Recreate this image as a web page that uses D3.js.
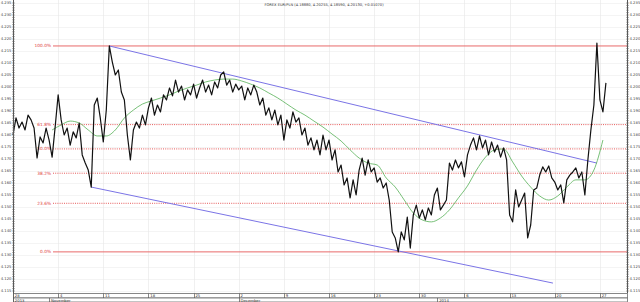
<!DOCTYPE html>
<html>
<head>
<meta charset="utf-8">
<script src="https://cdn.jsdelivr.net/npm/d3@7"></script>
<style>
  body { margin: 0; background: #fff; }
  svg { display: block; font-family: "DejaVu Sans", sans-serif; }
</style>
</head>
<body>
<svg id="chart" width="640" height="302"></svg>
<script>
const title = "FOREX EUR/PLN (4.18880, 4.20255, 4.18590, 4.20130, +0.01070)";

// closes, three per trading day, starting Mon 28 Oct 2013
const closes = [
  4.1800, 4.1871, 4.1829, 4.1854, 4.1821, 4.1883, 4.1863, 4.1829, 4.1704, 4.1792,
  4.1767, 4.1829, 4.1779, 4.1708, 4.1833, 4.1967, 4.1863, 4.1800, 4.1829, 4.1758,
  4.1813, 4.1788, 4.1850, 4.1717, 4.1683, 4.1654, 4.1583, 4.1925, 4.1954, 4.1871,
  4.1771, 4.1904, 4.2171, 4.2104, 4.2050, 4.2071, 4.1979, 4.1946, 4.1800, 4.1696,
  4.1821, 4.1854, 4.1829, 4.1883, 4.1842, 4.1913, 4.1954, 4.1883, 4.1925, 4.1896,
  4.1967, 4.1946, 4.1996, 4.1963, 4.2029, 4.1979, 4.2004, 4.1946, 4.1988, 4.1967,
  4.2012, 4.1954, 4.1996, 4.2029, 4.1979, 4.2008, 4.1967, 4.2021, 4.1996, 4.2050,
  4.2063, 4.2008, 4.2029, 4.1979, 4.2012, 4.1988, 4.2004, 4.1946, 4.1996, 4.1967,
  4.2008, 4.1979, 4.1925, 4.1954, 4.1883, 4.1913, 4.1863, 4.1904, 4.1842, 4.1883,
  4.1779, 4.1863, 4.1829, 4.1896, 4.1854, 4.1871, 4.1800, 4.1829, 4.1758, 4.1788,
  4.1738, 4.1779, 4.1717, 4.1800, 4.1738, 4.1779, 4.1696, 4.1738, 4.1646, 4.1675,
  4.1592, 4.1621, 4.1538, 4.1613, 4.1550, 4.1654, 4.1704, 4.1633, 4.1696, 4.1646,
  4.1663, 4.1604, 4.1621, 4.1579, 4.1600, 4.1529, 4.1396, 4.1371, 4.1313, 4.1396,
  4.1363, 4.1458, 4.1329, 4.1467, 4.1508, 4.1454, 4.1488, 4.1446, 4.1496, 4.1467,
  4.1550, 4.1579, 4.1488, 4.1508, 4.1529, 4.1683, 4.1654, 4.1696, 4.1663, 4.1688,
  4.1625, 4.1717, 4.1758, 4.1788, 4.1738, 4.1796, 4.1746, 4.1779, 4.1717, 4.1771,
  4.1729, 4.1758, 4.1708, 4.1746, 4.1696, 4.1467, 4.1438, 4.1571, 4.1500, 4.1529,
  4.1558, 4.1371, 4.1425, 4.1571, 4.1579, 4.1633, 4.1667, 4.1646, 4.1671, 4.1621,
  4.1604, 4.1571, 4.1592, 4.1517, 4.1613, 4.1633, 4.1646, 4.1663, 4.1621, 4.1646,
  4.1550, 4.1696, 4.1821, 4.1925, 4.2183, 4.1946, 4.1896, 4.2017
];
const barsPerDay = 3;

// moving average, one value every third bar from bar 13
const maStart = 13;
const maStep = 3;
const movingAvg = [
  4.1821, 4.1842, 4.1858, 4.1850, 4.1821, 4.1796, 4.1796, 4.1821, 4.1871, 4.1904,
  4.1929, 4.1942, 4.1954, 4.1967, 4.1983, 4.1996, 4.2008, 4.2021, 4.2029, 4.2033,
  4.2033, 4.2025, 4.2012, 4.1996, 4.1975, 4.1954, 4.1929, 4.1904, 4.1883, 4.1858,
  4.1833, 4.1804, 4.1775, 4.1738, 4.1704, 4.1683, 4.1675, 4.1621, 4.1583, 4.1529,
  4.1475, 4.1446, 4.1438, 4.1454, 4.1488, 4.1538, 4.1588, 4.1654, 4.1708, 4.1738,
  4.1742, 4.1688, 4.1629, 4.1583, 4.1546, 4.1529, 4.1546, 4.1583, 4.1613, 4.1613,
  4.1654, 4.1779
];

// trend channel, [day, price]
const upperChannel = [[10.667, 4.2171], [64.67, 4.1683]];
const lowerChannel = [[8.667, 4.1583], [59.8, 4.1183]];

const fibLevels = [100, 61.8, 50, 38.2, 23.6, 0];
const fibHigh = 4.2171;
const fibLow = 4.1313;

const priceTicks = [
  4.115, 4.120, 4.125, 4.130, 4.135, 4.140, 4.145, 4.150, 4.155, 4.160,
  4.165, 4.170, 4.175, 4.180, 4.185, 4.190, 4.195, 4.200, 4.205, 4.210,
  4.215, 4.220, 4.225, 4.230, 4.235
];
const weekDays = [0, 5, 10, 15, 20, 25, 30, 35, 40, 45, 50, 55, 60, 65];
const weekLabels = ["28", "4", "11", "18", "25", "2", "9", "16", "23", "30", "6", "13", "20", "27"];
const monthDays = [0, 4, 25, 47];
const monthLabels = ["2013", "November", "December", "2014"];

const svg = d3.select("#chart");
const plotLeft = 13, plotRight = 627, plotTop = 0, plotBottom = 293;

const x = d3.scaleLinear().domain([0, 68]).range([plotLeft, plotRight]);
const y = d3.scaleLinear().domain([4.115, 4.235]).range([291, 3]);

// grid
svg.append("g")
  .attr("stroke", "#ececec")
  .attr("stroke-width", 0.6)
  .selectAll("line")
  .data(priceTicks)
  .join("line")
  .attr("x1", plotLeft).attr("x2", plotRight)
  .attr("y1", d => Math.round(y(d)) + 0.5).attr("y2", d => Math.round(y(d)) + 0.5);

svg.append("g")
  .attr("stroke", "#e6e6e6")
  .attr("stroke-width", 0.6)
  .selectAll("line")
  .data(weekDays)
  .join("line")
  .attr("x1", d => Math.round(x(d)) + 0.5).attr("x2", d => Math.round(x(d)) + 0.5)
  .attr("y1", plotTop).attr("y2", plotBottom);

// fibonacci levels
const fibY = p => y(fibLow + (fibHigh - fibLow) * p / 100);
const fib = svg.append("g");
fib.selectAll("line")
  .data(fibLevels)
  .join("line")
  .attr("x1", 53).attr("x2", plotRight)
  .attr("y1", d => fibY(d)).attr("y2", d => fibY(d))
  .attr("stroke", d => (d === 100 || d === 0) ? "#e86a6a" : "#e65a5a")
  .attr("stroke-width", 1)
  .attr("stroke-dasharray", d => (d === 100 || d === 0) ? null : "1,1.2");
fib.selectAll("text")
  .data(fibLevels)
  .join("text")
  .attr("x", 51)
  .attr("y", d => fibY(d))
  .attr("dy", "0.35em")
  .attr("text-anchor", "end")
  .attr("font-size", 4.3)
  .attr("fill", "#e03c3c")
  .text(d => d.toFixed(1) + "%");

// channel
const seg = d3.line().x(d => x(d[0])).y(d => y(d[1]));
svg.append("g")
  .attr("fill", "none")
  .attr("stroke", "#7b74e6")
  .attr("stroke-width", 1)
  .selectAll("path")
  .data([upperChannel, lowerChannel])
  .join("path")
  .attr("d", seg);

// moving average
svg.append("path")
  .datum(movingAvg)
  .attr("fill", "none")
  .attr("stroke", "#55b055")
  .attr("stroke-width", 0.8)
  .attr("d", d3.line()
    .curve(d3.curveMonotoneX)
    .x((d, i) => x((maStart + i * maStep) / barsPerDay))
    .y(d => y(d)));

// price
svg.append("path")
  .datum(closes)
  .attr("fill", "none")
  .attr("stroke", "#111")
  .attr("stroke-width", 1.2)
  .attr("stroke-linejoin", "round")
  .attr("d", d3.line()
    .x((d, i) => x(i / barsPerDay))
    .y(d => y(d)));

// y axes
const minor = d3.range(4.115, 4.2355, 0.001);
function yAxis(g, side) {
  const ax = side === "left" ? plotLeft : plotRight;
  g.append("line")
    .attr("x1", ax + 0.5).attr("x2", ax + 0.5)
    .attr("y1", 0).attr("y2", plotBottom)
    .attr("stroke", "#555").attr("stroke-width", 1);
  g.append("g").selectAll("line")
    .data(minor)
    .join("line")
    .attr("x1", ax - 1).attr("x2", ax + 2)
    .attr("y1", d => y(d)).attr("y2", d => y(d))
    .attr("stroke", "#666").attr("stroke-width", 0.5);
  g.append("g").selectAll("text")
    .data(priceTicks)
    .join("text")
    .attr("x", side === "left" ? ax - 1.5 : ax + 2.5)
    .attr("y", d => y(d))
    .attr("dy", "0.35em")
    .attr("text-anchor", side === "left" ? "end" : "start")
    .attr("font-size", 3.8)
    .attr("fill", "#444")
    .text(d => d3.format(".3f")(d));
}
svg.append("g").call(yAxis, "left");
svg.append("g").call(yAxis, "right");

// time axis
const tAxis = svg.append("g").attr("stroke", "#555").attr("stroke-width", 0.7);
tAxis.append("rect")
  .attr("x", plotLeft + 0.5).attr("y", plotBottom + 0.5)
  .attr("width", plotRight - plotLeft).attr("height", 4.5)
  .attr("fill", "#fff");
tAxis.append("rect")
  .attr("x", plotLeft + 0.5).attr("y", plotBottom + 5)
  .attr("width", plotRight - plotLeft).attr("height", 4)
  .attr("fill", "#fff");
tAxis.selectAll(".wk")
  .data(weekDays)
  .join("line")
  .attr("x1", d => Math.round(x(d)) + 0.5).attr("x2", d => Math.round(x(d)) + 0.5)
  .attr("y1", plotBottom + 0.5).attr("y2", plotBottom + 5);
tAxis.selectAll(".mo")
  .data(monthDays)
  .join("line")
  .attr("x1", d => Math.round(x(d)) + 0.5).attr("x2", d => Math.round(x(d)) + 0.5)
  .attr("y1", plotBottom + 5).attr("y2", 302);

svg.append("g").selectAll("text")
  .data(weekDays)
  .join("text")
  .attr("x", d => x(d) + 1.8)
  .attr("y", plotBottom + 4.2)
  .attr("font-size", 3.8)
  .attr("fill", "#333")
  .text((d, i) => weekLabels[i]);

svg.append("g").selectAll("text")
  .data(monthDays)
  .join("text")
  .attr("x", d => x(d) + 1.8)
  .attr("y", 301.6)
  .attr("font-size", 3.8)
  .attr("fill", "#333")
  .text((d, i) => monthLabels[i]);

// title
svg.append("text")
  .attr("x", 324)
  .attr("y", 6)
  .attr("text-anchor", "middle")
  .attr("font-size", 3.6)
  .attr("fill", "#333")
  .text(title);
</script>
</body>
</html>
